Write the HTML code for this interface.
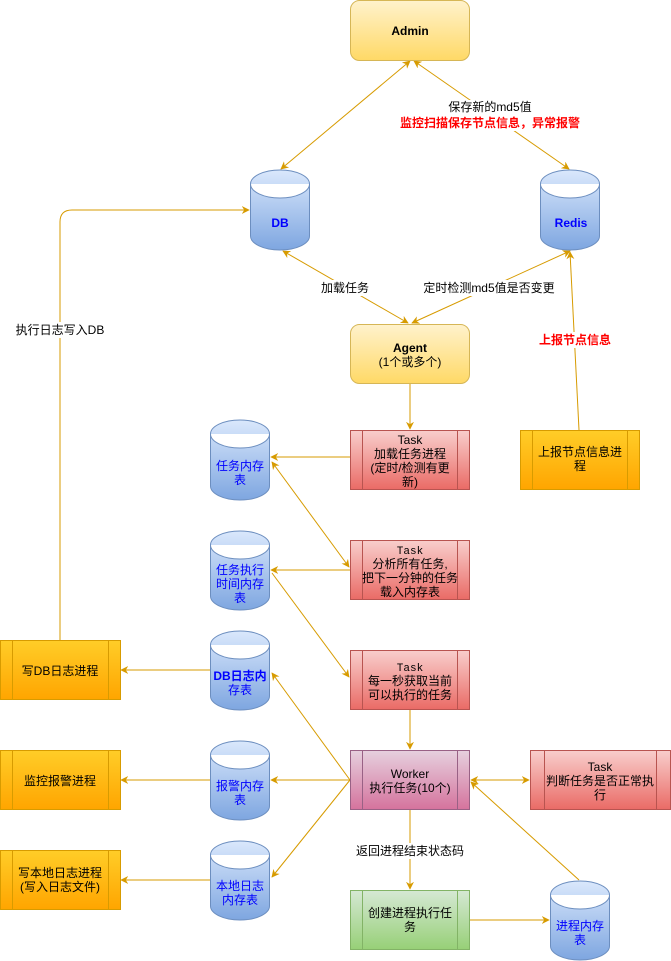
<!DOCTYPE html>
<html><head><meta charset="utf-8"><style>
html,body{margin:0;padding:0;background:#fff}
svg{display:block}
text{font-family:"Liberation Sans","Noto Sans CJK SC",sans-serif;font-size:12px;text-anchor:middle}
.b{fill:#0000ff}
.r{fill:#ff0000;font-weight:bold}
</style></head><body>
<svg width="671" height="961" viewBox="0 0 671 961" xmlns="http://www.w3.org/2000/svg">
<defs>
<linearGradient id="gy" x1="0" y1="0" x2="0" y2="1"><stop offset="0" stop-color="#fff2cc"/><stop offset="1" stop-color="#ffd966"/></linearGradient>
<linearGradient id="go" x1="0" y1="0" x2="0" y2="1"><stop offset="0" stop-color="#ffcd28"/><stop offset="1" stop-color="#ffa500"/></linearGradient>
<linearGradient id="gr" x1="0" y1="0" x2="0" y2="1"><stop offset="0" stop-color="#f8cecc"/><stop offset="1" stop-color="#ea6b66"/></linearGradient>
<linearGradient id="gp" x1="0" y1="0" x2="0" y2="1"><stop offset="0" stop-color="#e6d0de"/><stop offset="1" stop-color="#d5739d"/></linearGradient>
<linearGradient id="gg" x1="0" y1="0" x2="0" y2="1"><stop offset="0" stop-color="#d5e8d4"/><stop offset="1" stop-color="#97d077"/></linearGradient>
<linearGradient id="gb" x1="0" y1="0" x2="0" y2="1"><stop offset="0" stop-color="#dae8fc"/><stop offset="1" stop-color="#7ea6e0"/></linearGradient>
<marker id="a" viewBox="0 0 10 10" refX="9" refY="5" markerWidth="8" markerHeight="8" orient="auto-start-reverse" markerUnits="userSpaceOnUse"><path d="M0,0 L10,5 L0,10 L3,5 Z" fill="#d79b00"/></marker>
</defs>

<g stroke="#d79b00" stroke-width="1" fill="none">
<line x1="410" y1="61" x2="281" y2="169" marker-start="url(#a)" marker-end="url(#a)"/>
<line x1="414" y1="61" x2="569" y2="169" marker-start="url(#a)" marker-end="url(#a)"/>
<line x1="283" y1="251" x2="408" y2="323" marker-start="url(#a)" marker-end="url(#a)"/>
<line x1="570" y1="251" x2="412" y2="323" marker-start="url(#a)" marker-end="url(#a)"/>
<line x1="579" y1="430" x2="570" y2="252" marker-end="url(#a)"/>
<line x1="410" y1="384" x2="410" y2="429" marker-end="url(#a)"/>
<path d="M60,640 V222 Q60,210 72,210 H249" marker-end="url(#a)"/>
<line x1="350" y1="457" x2="271" y2="457" marker-end="url(#a)"/>
<line x1="272" y1="462" x2="349" y2="567" marker-start="url(#a)" marker-end="url(#a)"/>
<line x1="350" y1="570" x2="271" y2="570" marker-end="url(#a)"/>
<line x1="272" y1="573" x2="349" y2="677" marker-end="url(#a)"/>
<line x1="410" y1="710" x2="410" y2="749" marker-end="url(#a)"/>
<line x1="350" y1="780" x2="272" y2="673" marker-end="url(#a)"/>
<line x1="350" y1="780" x2="271" y2="780" marker-end="url(#a)"/>
<line x1="350" y1="780" x2="272" y2="877" marker-end="url(#a)"/>
<line x1="210" y1="670" x2="121" y2="670" marker-end="url(#a)"/>
<line x1="210" y1="780" x2="121" y2="780" marker-end="url(#a)"/>
<line x1="210" y1="880" x2="121" y2="880" marker-end="url(#a)"/>
<line x1="471" y1="780" x2="529" y2="780" marker-start="url(#a)" marker-end="url(#a)"/>
<line x1="410" y1="810" x2="410" y2="889" marker-end="url(#a)"/>
<line x1="470" y1="920" x2="549" y2="920" marker-end="url(#a)"/>
<line x1="579" y1="880" x2="471" y2="782" marker-end="url(#a)"/>
</g>

<!-- label backgrounds -->
<g fill="#fff">
<rect x="446" y="100" width="88" height="15"/>
<rect x="398" y="115" width="184" height="16"/>
<rect x="319" y="280" width="52" height="16"/>
<rect x="422" y="280" width="134" height="16"/>
<rect x="538" y="332" width="74" height="16"/>
<rect x="14" y="322" width="92" height="16"/>
<rect x="354" y="843" width="112" height="16"/>
</g>
<text x="490" y="111">保存新的md5值</text>
<text x="490" y="127" class="r">监控扫描保存节点信息，异常报警</text>
<text x="345" y="292">加载任务</text>
<text x="489" y="292">定时检测md5值是否变更</text>
<text x="575" y="344" class="r">上报节点信息</text>
<text x="60" y="334">执行日志写入DB</text>
<text x="410" y="855">返回进程结束状态码</text>

<!-- rounded boxes -->
<rect x="350.5" y="0.5" width="119" height="60" rx="9" fill="url(#gy)" stroke="#d6b656"/>
<text x="410" y="35" style="font-weight:bold">Admin</text>
<rect x="350.5" y="324.5" width="119" height="59" rx="9" fill="url(#gy)" stroke="#d6b656"/>
<text x="410" y="352" style="font-weight:bold">Agent</text>
<text x="410" y="366">(1个或多个)</text>

<!-- process boxes -->
<g stroke-width="1">
<g stroke="#b85450" fill="url(#gr)">
<rect x="350.5" y="430.5" width="119" height="59"/><path d="M362.5,430.5V489.5M457.5,430.5V489.5"/>
<rect x="350.5" y="540.5" width="119" height="59"/><path d="M362.5,540.5V599.5M457.5,540.5V599.5"/>
<rect x="350.5" y="650.5" width="119" height="59"/><path d="M362.5,650.5V709.5M457.5,650.5V709.5"/>
<rect x="530.5" y="750.5" width="140" height="59"/><path d="M544.5,750.5V809.5M656.5,750.5V809.5"/>
</g>
<g stroke="#996185" fill="url(#gp)"><rect x="350.5" y="750.5" width="119" height="59"/><path d="M362.5,750.5V809.5M457.5,750.5V809.5"/></g>
<g stroke="#82b366" fill="url(#gg)"><rect x="350.5" y="890.5" width="119" height="59"/><path d="M362.5,890.5V949.5M457.5,890.5V949.5"/></g>
<g stroke="#d79b00" fill="url(#go)">
<rect x="520.5" y="430.5" width="119" height="59"/><path d="M532.5,430.5V489.5M627.5,430.5V489.5"/>
<rect x="0.5" y="640.5" width="120" height="59"/><path d="M12.5,640.5V699.5M108.5,640.5V699.5"/>
<rect x="0.5" y="750.5" width="120" height="59"/><path d="M12.5,750.5V809.5M108.5,750.5V809.5"/>
<rect x="0.5" y="850.5" width="120" height="59"/><path d="M12.5,850.5V909.5M108.5,850.5V909.5"/>
</g>
</g>
<text x="410" y="444">Task</text><text x="410" y="458">加载任务进程</text><text x="410" y="472">(定时/检测有更</text><text x="410" y="486">新)</text>
<text x="410" y="554" style="font-family:'Liberation Mono',monospace;font-size:11px">Task</text><text x="410" y="568">分析所有任务,</text><text x="410" y="582">把下一分钟的任务</text><text x="410" y="596">载入内存表</text>
<text x="410" y="671" style="font-family:'Liberation Mono',monospace;font-size:11px">Task</text><text x="410" y="685">每一秒获取当前</text><text x="410" y="699">可以执行的任务</text>
<text x="410" y="778">Worker</text><text x="410" y="792">执行任务(10个)</text>
<text x="600" y="771">Task</text><text x="600" y="785">判断任务是否正常执</text><text x="600" y="799">行</text>
<text x="410" y="917">创建进程执行任</text><text x="410" y="931">务</text>
<text x="580" y="456">上报节点信息进</text><text x="580" y="470">程</text>
<text x="60" y="675">写DB日志进程</text>
<text x="60" y="785">监控报警进程</text>
<text x="60" y="877">写本地日志进程</text><text x="60" y="891">(写入日志文件)</text>

<!-- cylinders -->
<g stroke="#6c8ebf" fill="url(#gb)">
<path d="M250.5,184 A29.5,14 0 0 1 309.5,184 V236 A29.5,14 0 0 1 250.5,236 Z M250.5,184 A29.5,14 0 0 0 309.5,184"/>
<path d="M540.5,184 A29.5,14 0 0 1 599.5,184 V236 A29.5,14 0 0 1 540.5,236 Z M540.5,184 A29.5,14 0 0 0 599.5,184"/>
<path d="M210.5,434 A29.5,14 0 0 1 269.5,434 V486 A29.5,14 0 0 1 210.5,486 Z M210.5,434 A29.5,14 0 0 0 269.5,434"/>
<path d="M210.5,545 A29.5,14 0 0 1 269.5,545 V596 A29.5,14 0 0 1 210.5,596 Z M210.5,545 A29.5,14 0 0 0 269.5,545"/>
<path d="M210.5,645 A29.5,14 0 0 1 269.5,645 V696 A29.5,14 0 0 1 210.5,696 Z M210.5,645 A29.5,14 0 0 0 269.5,645"/>
<path d="M210.5,755 A29.5,14 0 0 1 269.5,755 V806 A29.5,14 0 0 1 210.5,806 Z M210.5,755 A29.5,14 0 0 0 269.5,755"/>
<path d="M210.5,855 A29.5,14 0 0 1 269.5,855 V906 A29.5,14 0 0 1 210.5,906 Z M210.5,855 A29.5,14 0 0 0 269.5,855"/>
<path d="M550.5,895 A29.5,14 0 0 1 609.5,895 V946 A29.5,14 0 0 1 550.5,946 Z M550.5,895 A29.5,14 0 0 0 609.5,895"/>
</g>
<text x="280" y="227" class="b" style="font-weight:bold">DB</text>
<text x="571" y="227" class="b" style="font-weight:bold">Redis</text>
<text x="240" y="470" class="b">任务内存</text><text x="240" y="484" class="b">表</text>
<text x="240" y="574" class="b">任务执行</text><text x="240" y="588" class="b">时间内存</text><text x="240" y="602" class="b">表</text>
<text x="240" y="680" class="b" style="font-weight:bold">DB日志内</text><text x="240" y="694" class="b">存表</text>
<text x="240" y="790" class="b">报警内存</text><text x="240" y="804" class="b">表</text>
<text x="240" y="890" class="b">本地日志</text><text x="240" y="904" class="b">内存表</text>
<text x="580" y="930" class="b">进程内存</text><text x="580" y="944" class="b">表</text>
</svg>
</body></html>
